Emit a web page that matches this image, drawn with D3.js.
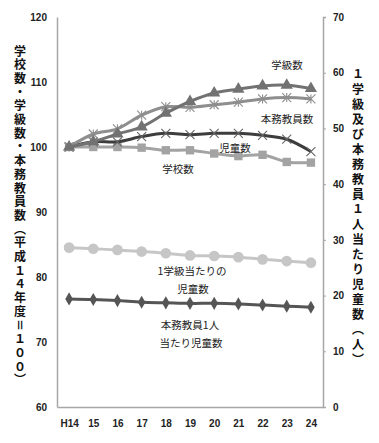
<!DOCTYPE html>
<html lang="ja">
<head>
<meta charset="utf-8">
<title>Chart</title>
<script src="https://d3js.org/d3.v7.min.js"></script>
<style>
body { margin: 0; background: #fff; }
text { font-family: "Noto Sans CJK JP", "Liberation Sans", sans-serif; }
.tick-lbl { font-family: "Liberation Sans", sans-serif; font-weight: bold; font-size: 10px; fill: #222; }
.note { font-size: 10.5px; fill: #222; }
.vtitle { font-size: 12px; font-weight: bold; fill: #111; writing-mode: vertical-rl; }
</style>
</head>
<body>
<div id="chart"></div>
<script>
// data
var years = ["H14", "15", "16", "17", "18", "19", "20", "21", "22", "23", "24"];
var gakkyu = [100, 100.8, 102.0, 103.1, 105.2, 107.0, 108.3, 108.9, 109.4, 109.5, 109.0];   // 学級数
var kyoin = [100, 102.0, 102.8, 104.9, 106.2, 106.1, 106.5, 106.9, 107.4, 107.6, 107.4];    // 本務教員数
var jido = [100, 100.8, 100.8, 101.6, 102.1, 101.9, 102.1, 102.1, 101.8, 101.2, 99.3];       // 児童数
var gakko = [100, 100, 100, 99.9, 99.5, 99.5, 99.0, 98.6, 98.8, 97.7, 97.6];                 // 学校数
var perClass = [28.6, 28.4, 28.2, 27.9, 27.6, 27.2, 27.1, 26.9, 26.5, 26.2, 25.9];           // 1学級当たり児童数
var perTeacher = [19.4, 19.3, 19.1, 18.8, 18.7, 18.6, 18.6, 18.5, 18.3, 18.1, 17.9];         // 本務教員1人当たり児童数
var leftTicks = [60, 70, 80, 90, 100, 110, 120];
var rightTicks = [0, 10, 20, 30, 40, 50, 60, 70];

var w = 379, h = 443;
var svg = d3.select("#chart").append("svg").attr("width", w).attr("height", h);

var x = d3.scalePoint().domain(years).range([57, 323]).padding(0.5);
var yL = d3.scaleLinear().domain([60, 120]).range([407, 17]);
var yR = d3.scaleLinear().domain([0, 70]).range([407, 17]);

// axes
var axL = svg.append("g").attr("transform", "translate(57,0)")
  .call(d3.axisLeft(yL).tickValues(leftTicks).tickSize(0).tickPadding(10));
var axR = svg.append("g").attr("transform", "translate(323,0)")
  .call(d3.axisRight(yR).tickValues(rightTicks).tickSize(3).tickPadding(7));
var axB = svg.append("g").attr("transform", "translate(0,407)")
  .call(d3.axisBottom(x).tickSize(0).tickPadding(13));
[axL, axR, axB].forEach(function(a) {
  a.select(".domain").attr("stroke", "#a6a6a6").attr("stroke-width", 1.5);
  a.selectAll(".tick line").attr("stroke", "#a6a6a6");
  a.selectAll(".tick text").attr("class", "tick-lbl");
});

var smooth = d3.curveCatmullRom.alpha(0.5);

function drawSeries(vals, y, color, marker, size, mcolor) {
  var line = d3.line().x(function(d, i) { return x(years[i]); }).y(function(d) { return y(d); }).curve(smooth);
  svg.append("path").datum(vals).attr("d", line)
    .attr("fill", "none").attr("stroke", color).attr("stroke-width", 3);
  var g = svg.append("g").selectAll("path").data(vals).enter().append("path")
    .attr("transform", function(d, i) { return "translate(" + x(years[i]) + "," + y(d) + ")"; });
  if (marker === "x" || marker === "star") {
    var s = size / 2;
    var p = "M" + (-s) + "," + (-s) + "L" + s + "," + s + "M" + (-s) + "," + s + "L" + s + "," + (-s);
    if (marker === "star") p += "M0," + (-s) + "L0," + s;
    g.attr("d", p).attr("stroke", mcolor || color).attr("stroke-width", 1.1).attr("fill", "none");
  } else {
    g.attr("d", d3.symbol().type(marker).size(size)).attr("fill", color);
  }
}

drawSeries(perClass, yR, "#c6c6c6", d3.symbolCircle, 90);
drawSeries(perTeacher, yR, "#555555", d3.symbolDiamond, 50);
drawSeries(gakko, yL, "#a3a3a3", d3.symbolSquare, 70);
drawSeries(jido, yL, "#3d3d3d", "x", 9, "#666666");
drawSeries(kyoin, yL, "#8e8e8e", "star", 9);
drawSeries(gakkyu, yL, "#727272", d3.symbolTriangle, 65);

// series notes
var notes = [
  ["学級数", 287, 64], ["本務教員数", 287, 118], ["児童数", 235, 147], ["学校数", 178, 168],
  ["1学級当たりの", 192, 270], ["児童数", 193, 288], ["本務教員1人", 190, 324], ["当たり児童数", 191, 342]
];
svg.selectAll("text.note").data(notes).enter().append("text")
  .attr("class", "note").attr("x", function(d) { return d[1]; }).attr("y", function(d) { return d[2]; })
  .attr("text-anchor", "middle").attr("dominant-baseline", "central").text(function(d) { return d[0]; });

// vertical axis titles
svg.append("text").attr("class", "vtitle").attr("x", 20).attr("y", 45)
  .style("letter-spacing", "1.7px")
  .text("学校数・学級数・本務教員数（平成１４年度＝１００）");
svg.append("text").attr("class", "vtitle").attr("x", 358).attr("y", 68)
  .style("letter-spacing", "3px")
  .text("１学級及び本務教員１人当たり児童数（人）");
</script>
</body>
</html>
